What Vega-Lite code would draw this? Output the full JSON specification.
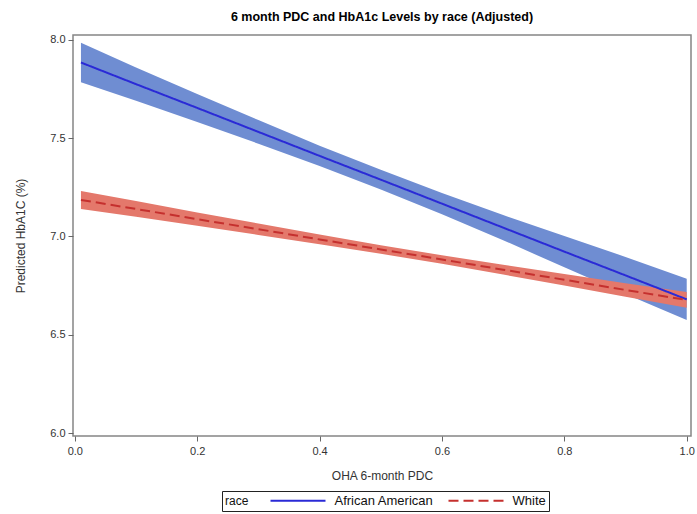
{
  "$schema": "https://vega.github.io/schema/vega-lite/v6.json",
  "autosize": {"type": "none"},
  "width": 618,
  "height": 401,
  "padding": {"left": 73, "top": 35, "right": 6, "bottom": 78},
  "title": {"text": "6 month PDC and HbA1c Levels by race (Adjusted)", "font": "Liberation Sans", "fontSize": 12.5, "fontWeight": "bold", "color": "#000", "anchor": "middle", "offset": 10},
  "data": {"values": [
    {"race": "African American", "x": 0.01, "y": 7.885, "lo": 7.785, "hi": 7.985},
    {"race": "African American", "x": 0.1, "y": 7.775, "lo": 7.690, "hi": 7.860},
    {"race": "African American", "x": 0.2, "y": 7.654, "lo": 7.583, "hi": 7.725},
    {"race": "African American", "x": 0.3, "y": 7.532, "lo": 7.472, "hi": 7.592},
    {"race": "African American", "x": 0.4, "y": 7.410, "lo": 7.358, "hi": 7.462},
    {"race": "African American", "x": 0.5, "y": 7.289, "lo": 7.239, "hi": 7.339},
    {"race": "African American", "x": 0.6, "y": 7.167, "lo": 7.113, "hi": 7.221},
    {"race": "African American", "x": 0.7, "y": 7.045, "lo": 6.981, "hi": 7.109},
    {"race": "African American", "x": 0.8, "y": 6.923, "lo": 6.843, "hi": 7.003},
    {"race": "African American", "x": 0.9, "y": 6.802, "lo": 6.708, "hi": 6.896},
    {"race": "African American", "x": 1.0, "y": 6.680, "lo": 6.575, "hi": 6.785},
    {"race": "White", "x": 0.01, "y": 7.186, "lo": 7.140, "hi": 7.232},
    {"race": "White", "x": 0.1, "y": 7.140, "lo": 7.100, "hi": 7.180},
    {"race": "White", "x": 0.2, "y": 7.088, "lo": 7.054, "hi": 7.122},
    {"race": "White", "x": 0.3, "y": 7.037, "lo": 7.008, "hi": 7.066},
    {"race": "White", "x": 0.4, "y": 6.985, "lo": 6.960, "hi": 7.010},
    {"race": "White", "x": 0.5, "y": 6.934, "lo": 6.912, "hi": 6.956},
    {"race": "White", "x": 0.6, "y": 6.883, "lo": 6.861, "hi": 6.905},
    {"race": "White", "x": 0.7, "y": 6.831, "lo": 6.806, "hi": 6.856},
    {"race": "White", "x": 0.8, "y": 6.780, "lo": 6.751, "hi": 6.809},
    {"race": "White", "x": 0.9, "y": 6.728, "lo": 6.694, "hi": 6.762},
    {"race": "White", "x": 1.0, "y": 6.677, "lo": 6.637, "hi": 6.717}
  ]},
  "encoding": {
    "x": {"field": "x", "type": "quantitative", "scale": {"domain": [-0.003, 1.007], "nice": false, "zero": false},
      "axis": {"title": "OHA 6-month PDC", "values": [0, 0.2, 0.4, 0.6, 0.8, 1.0], "format": ".1f", "grid": false, "domain": false, "tickSize": 5, "tickColor": "#666", "labelPadding": 4, "titlePadding": 14, "labelFlush": false}}
  },
  "layer": [
    {
      "mark": {"type": "area", "opacity": 1},
      "encoding": {
        "y": {"field": "lo", "type": "quantitative", "scale": {"domain": [5.985, 8.025], "nice": false, "zero": false},
          "axis": {"title": "Predicted HbA1C (%)", "values": [6.0, 6.5, 7.0, 7.5, 8.0], "format": ".1f", "grid": false, "domain": false, "tickSize": 5, "tickColor": "#666", "labelPadding": 3, "titlePadding": 22}},
        "y2": {"field": "hi"},
        "fill": {"condition": {"test": "datum.race === 'White'", "value": "#E4786B"}, "value": "#6F8DD2"},
        "detail": {"field": "race"}
      }
    },
    {
      "mark": {"type": "line", "strokeWidth": 2},
      "encoding": {
        "y": {"field": "y", "type": "quantitative"},
        "color": {"field": "race", "type": "nominal", "scale": {"domain": ["African American", "White"], "range": ["#2A2AD6", "#C5302E"]},
          "legend": {"title": "race"}},
        "strokeDash": {"field": "race", "type": "nominal", "scale": {"domain": ["African American", "White"], "range": [[1, 0], [10, 5]]},
          "legend": {"title": "race"}}
      }
    }
  ],
  "config": {
    "view": {"stroke": "#858585", "strokeWidth": 1.5},
    "axis": {"labelFont": "Liberation Sans", "labelFontSize": 11, "labelColor": "#333", "titleFont": "Liberation Sans", "titleFontSize": 12, "titleFontWeight": "normal", "titleColor": "#333"},
    "legend": {"orient": "none", "legendX": 149, "legendY": 456, "direction": "horizontal", "titleOrient": "left", "titleFont": "Liberation Sans", "titleFontSize": 12, "titleFontWeight": "normal", "titleColor": "#111", "labelFont": "Liberation Sans", "labelFontSize": 13, "labelColor": "#111", "symbolType": "M-5.5,0L5.5,0", "symbolSize": 100, "symbolStrokeWidth": 2, "symbolOffset": 22.5, "labelOffset": 30, "strokeColor": "#222", "padding": 3, "columnPadding": 10, "titlePadding": 20}
  }
}
